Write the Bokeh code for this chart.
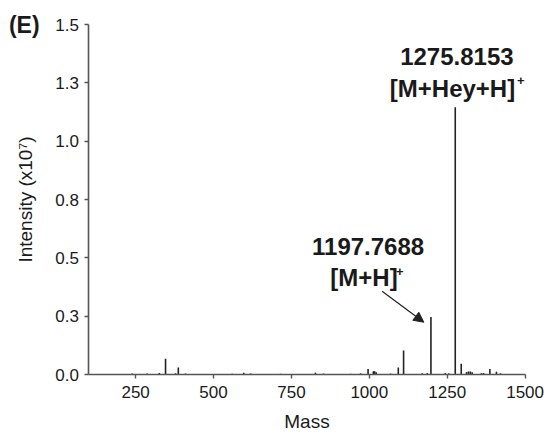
from bokeh.plotting import figure
from bokeh.models import FixedTicker, Label, Arrow, NormalHead, Range1d, ColumnDataSource
from bokeh.embed import file_html
from bokeh.resources import INLINE

# ---- data ----
masses = [239, 287, 326, 346, 378, 387, 410, 560, 597, 619, 715, 827, 853, 940, 972,
          996, 1013, 1017, 1022, 1068, 1093, 1110, 1170, 1186, 1197.7688, 1244, 1255,
          1275.8153, 1295, 1312, 1318, 1324, 1330, 1360, 1367, 1387, 1408, 1421]
intensities = [0.004, 0.004, 0.006, 0.067, 0.005, 0.030, 0.004, 0.003, 0.008, 0.004,
               0.003, 0.008, 0.004, 0.003, 0.005, 0.024, 0.014, 0.014, 0.010, 0.004,
               0.030, 0.103, 0.005, 0.006, 0.246, 0.006, 0.005, 1.145, 0.046, 0.010,
               0.013, 0.013, 0.010, 0.006, 0.006, 0.024, 0.012, 0.005]
x_ticks = [250, 500, 750, 1000, 1250, 1500]
y_ticks = [0.0, 0.25, 0.5, 0.75, 1.0, 1.25, 1.5]
y_tick_labels = ["0.0", "0.3", "0.5", "0.8", "1.0", "1.3", "1.5"]
x_min, x_max = 100, 1500
y_min, y_max = 0.0, 1.5

FONT = "Liberation Sans"
AX = "#555555"

W, H = 547, 440
# plot area (pixels) inside the canvas: left, right, top, bottom
L, R, T, B = 88.4, 524.6, 24.0, 374.0
xs = (x_max - x_min) / (R - L)
ys = (y_max - y_min) / (B - T)

p = figure(width=W, height=H, output_backend="svg", toolbar_location=None,
           x_range=Range1d(x_min - L * xs, x_max + (W - R) * xs),
           y_range=Range1d(y_min - (H - B) * ys, y_max + T * ys),
           min_border=0)
p.outline_line_color = None
p.grid.visible = False

src = ColumnDataSource(dict(x=masses, y=intensities, y0=[0] * len(masses)))
p.segment(x0="x", y0="y0", x1="x", y1="y", source=src, line_color="#222222", line_width=1.6)

for ax in (p.xaxis[0], p.yaxis[0]):
    ax.axis_line_color = AX
    ax.axis_line_width = 1.6
    ax.major_tick_line_color = AX
    ax.major_tick_line_width = 1.4
    ax.major_tick_out = 4
    ax.major_tick_in = 0
    ax.minor_tick_line_color = None
    ax.major_label_text_font = FONT
    ax.major_label_text_font_size = "17px"
    ax.major_label_text_color = "#1a1a1a"
    ax.axis_label_text_font = FONT
    ax.axis_label_text_font_size = "19px"
    ax.axis_label_text_font_style = "normal"
    ax.axis_label_text_color = "#1a1a1a"

p.xaxis.fixed_location = y_min
p.yaxis.fixed_location = x_min
p.xaxis.bounds = (x_min, x_max)
p.yaxis.bounds = (y_min, y_max)
p.xaxis.ticker = FixedTicker(ticks=x_ticks)
p.yaxis.ticker = FixedTicker(ticks=y_ticks)
p.yaxis.major_label_overrides = {t: l for t, l in zip(y_ticks, y_tick_labels)}
p.xaxis.axis_label = "Mass"
p.yaxis.axis_label = "Intensity (x10\u2077)"
p.xaxis.major_label_standoff = 7
p.yaxis.major_label_standoff = 6
p.xaxis.axis_label_standoff = 10
p.yaxis.axis_label_standoff = 16

def lab(x, y, text, size, align="center", **kw):
    p.add_layout(Label(x=x, y=y, text=text, text_font=FONT, text_font_size=size,
                       text_font_style="bold", text_align=align,
                       text_baseline="alphabetic", text_color="#1a1a1a", **kw))

lab(1281, 1.364, "1275.8153", "24px")
lab(1267, 1.227, "[M+Hey+H]", "24px")
lab(1474, 1.262, "+", "13px", align="left")
lab(996, 0.549, "1197.7688", "24px")
lab(983, 0.416, "[M+H]", "24px")
lab(1086, 0.440, "+", "13px", align="left")
lab(x_min, 1.499, "(E)", "23px", align="left", x_offset=-80)

p.add_layout(Arrow(x_start=1041, y_start=0.357, x_end=1175, y_end=0.224,
                   line_color="#222222", line_width=1.2,
                   end=NormalHead(size=10, fill_color="#222222", line_color="#222222")))

open("out.html", "w").write(file_html(p, INLINE))
